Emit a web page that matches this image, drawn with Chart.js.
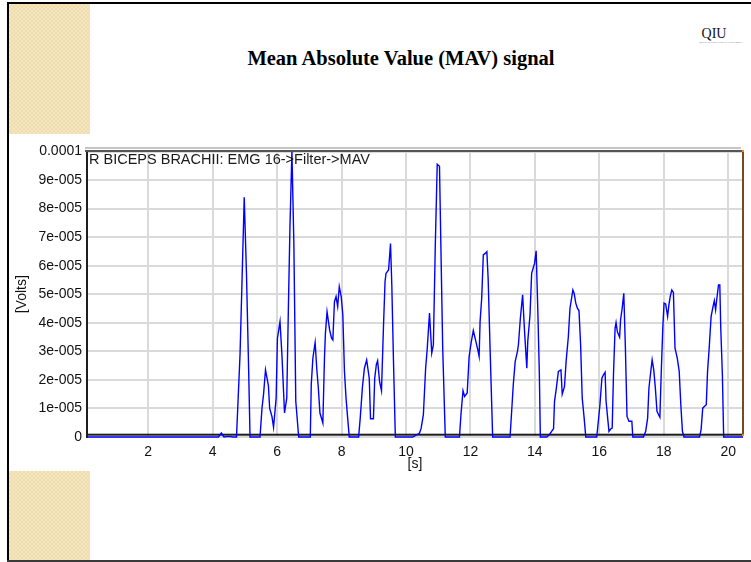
<!DOCTYPE html>
<html>
<head>
<meta charset="utf-8">
<title>Mean Absolute Value (MAV) signal</title>
<script src="https://cdn.jsdelivr.net/npm/chart.js@4/dist/chart.umd.min.js"></script>
<style>
  html, body { margin: 0; padding: 0; background: #ffffff; }
  body { width: 751px; height: 562px; position: relative; overflow: hidden; }
  .rule { position: absolute; background: #000; }
  .beige {
    position: absolute;
    background: repeating-conic-gradient(#f0ddae 0 25%, #f5e6c2 0 50%) 0 0 / 4px 4px;
  }
  #slideTitle {
    position: absolute; left: 151px; top: 47px; width: 500px; height: 24px;
    line-height: 24px; text-align: center;
    font: bold 20.5px "Liberation Serif", "Times New Roman", serif; color: #000;
  }
  #logo {
    position: absolute; left: 699px; top: 27px; width: 30px; text-align: center;
    font: 14px "Liberation Serif", "Times New Roman", serif; color: #111; line-height: 14px;
  }
  #logo .sub { display: block; font-size: 2.5px; line-height: 4px; letter-spacing: 0; color: #555; white-space: nowrap; }
  #chart { position: absolute; left: 0; top: 0; }
</style>
</head>
<body>
<div class="rule" style="left:7px; top:2px; width:2px; height:560px;"></div>
<div class="rule" style="left:7px; top:2px; width:744px; height:2px;"></div>
<div class="rule" style="left:7px; top:560px; width:744px; height:2px; background:#3a3a3a;"></div>
<div class="beige" style="left:9px; top:4px; width:81px; height:130px;"></div>
<div class="beige" style="left:9px; top:471px; width:81px; height:89px;"></div>
<div id="slideTitle">Mean Absolute Value (MAV) signal</div>
<div id="logo">QIU<span class="sub">QUEST INTERNATIONAL UNIVERSITY</span></div>
<canvas id="chart" width="751" height="562"></canvas>
<script>
// Time stamps of the MAV trace, seconds
const timeSec = [
  0.10, 1.00, 2.00, 3.00, 4.00, 4.18, 4.27, 4.35, 4.50, 4.62, 4.74,
  4.85, 4.91, 4.98, 5.05, 5.12, 5.16, 5.29, 5.40, 5.47,
  5.53, 5.58, 5.64, 5.73, 5.77, 5.84, 5.89, 5.97, 6.01, 6.09, 6.15, 6.23, 6.30, 6.35, 6.40, 6.46, 6.52, 6.58, 6.67, 6.80, 6.90, 7.03,
  7.06, 7.11, 7.18, 7.23, 7.28, 7.33, 7.42, 7.47, 7.50, 7.55, 7.63, 7.69, 7.73, 7.78, 7.83, 7.88, 7.93, 7.99, 8.04, 8.09, 8.14, 8.19, 8.24, 8.40, 8.53,
  8.58, 8.65, 8.71, 8.78, 8.86, 8.90, 8.99, 9.03, 9.08, 9.12, 9.18, 9.24, 9.30, 9.35, 9.38, 9.46, 9.52, 9.56, 9.61, 9.67, 9.80, 9.90,
  10.21, 10.34, 10.42, 10.47, 10.54, 10.61, 10.66, 10.73, 10.80, 10.85, 10.91, 10.97, 11.04, 11.09, 11.14, 11.22, 11.35, 11.50, 11.66,
  11.71, 11.77, 11.82, 11.90, 11.96, 12.02, 12.09, 12.17, 12.23, 12.27, 12.30, 12.35, 12.40, 12.46, 12.51, 12.55, 12.61, 12.69, 12.82, 12.92, 13.23,
  13.28, 13.33, 13.39, 13.46, 13.49, 13.55, 13.62, 13.68, 13.75, 13.78, 13.85, 13.90, 13.99, 14.04, 14.09, 14.14, 14.17, 14.27, 14.37,
  14.45, 14.52, 14.58, 14.61, 14.66, 14.73, 14.81, 14.85, 14.92, 14.97, 15.04, 15.09, 15.18, 15.22, 15.27, 15.32, 15.37, 15.42, 15.47, 15.53, 15.58, 15.71, 15.82, 15.92,
  15.97, 16.02, 16.08, 16.13, 16.18, 16.21, 16.26, 16.30, 16.36, 16.40, 16.44, 16.49, 16.52, 16.56, 16.63, 16.66, 16.71, 16.76, 16.81, 16.86, 16.92, 17.01, 17.04, 17.16, 17.27, 17.37,
  17.44, 17.50, 17.54, 17.58, 17.64, 17.69, 17.74, 17.79, 17.84, 17.88, 17.92, 17.97, 18.01, 18.06, 18.12, 18.16, 18.20, 18.25, 18.30, 18.35, 18.42, 18.48, 18.53, 18.58, 18.63, 18.77, 18.92, 19.11,
  19.16, 19.21, 19.26, 19.32, 19.36, 19.41, 19.47, 19.52, 19.57, 19.61, 19.65, 19.70, 19.74, 19.77, 19.82, 19.86, 19.96, 20.07, 20.17, 20.46
];

// MAV amplitude at each time stamp, in units of 1e-5 V
const mavE5 = [
  0, 0, 0, 0, 0, 0, 0.14, 0, 0.02, 0, 0,
  2.9, 5.4, 8.4, 5.7, 2.2, 0, 0, 0, 0,
  1.0, 1.5, 2.35, 1.8, 1.0, 0.72, 0.34, 1.36, 3.46, 4.04, 2.88, 0.84, 1.36, 4.5, 7.4, 10.0, 6.8, 1.25, 0, 0, 0, 0,
  1.83, 2.76, 3.31, 2.41, 1.71, 0.84, 0.49, 2.76, 3.64, 4.39, 3.75, 3.46, 3.4, 4.74, 4.92, 4.57, 5.27, 4.92, 4.28, 2.3, 1.36, 0.66, 0, 0, 0,
  0.66, 1.77, 2.41, 2.7, 2.06, 0.64, 0.64, 2.06, 2.53, 2.67, 1.95, 1.62, 3.81, 5.44, 5.73, 5.85, 6.78, 5.33, 2.76, 0, 0, 0,
  0, 0.08, 0.14, 0.3, 0.78, 2.41, 3.1, 4.34, 2.94, 3.23, 6.72, 9.55, 9.48, 6.26, 3.1, 0, 0, 0, 0,
  0.84, 1.62, 1.42, 1.54, 2.82, 3.29, 3.73, 3.34, 3.05, 2.82, 4.04, 4.86, 6.38, 6.43, 6.49, 5.56, 3.11, 0, 0, 0, 0,
  0.9, 1.83, 2.65, 3.0, 3.23, 4.16, 4.98, 3.7, 2.41, 3.35, 4.28, 5.73, 6.08, 6.52, 4.51, 2.18, 0, 0, 0,
  0.08, 0.2, 0.29, 1.25, 1.65, 2.3, 2.35, 1.5, 1.77, 2.65, 3.52, 4.51, 5.15, 5.03, 4.69, 4.51, 4.42, 3.23, 1.36, 0.66, 0, 0, 0, 0,
  0.55, 1.13, 2.06, 2.18, 2.27, 1.25, 0.66, 0.2, 0.29, 0.31, 2.18, 3.81, 4.01, 3.69, 3.5, 4.1, 4.51, 5.03, 3.11, 0.72, 0.55, 0.55, 0, 0, 0, 0,
  0.2, 0.66, 1.71, 2.12, 2.7, 2.35, 1.71, 0.9, 0.78, 0.69, 2.18, 3.81, 4.69, 4.66, 4.22, 4.63, 4.92, 5.15, 5.06, 3.11, 2.76, 2.3, 1.13, 0.2, 0, 0, 0, 0,
  0.26, 1.01, 1.07, 1.13, 2.3, 3.11, 4.22, 4.51, 4.77, 4.45, 4.86, 5.33, 5.33, 3.81, 2.18, 0, 0, 0, 0, 0
];

// Axis ticks and their printed labels
const xTickValues = [2, 4, 6, 8, 10, 12, 14, 16, 18, 20];
const yTickValues = [0, 1e-5, 2e-5, 3e-5, 4e-5, 5e-5, 6e-5, 7e-5, 8e-5, 9e-5, 1e-4];
const yTickLabels = ['0', '1e-005', '2e-005', '3e-005', '4e-005', '5e-005', '6e-005', '7e-005', '8e-005', '9e-005', '0.0001'];

const seriesLabel = 'R BICEPS BRACHII: EMG 16->Filter->MAV';
const points = timeSec.map((t, i) => ({ x: t, y: mavE5[i] * 1e-5 }));

const tickFont = { family: 'Arial, "Liberation Sans", sans-serif', size: 14 };

// Plot frame: double top rule, brown right edge, black base line, trace caption
const framePlugin = {
  id: 'frame',
  beforeDatasetsDraw(chart) {
    const { ctx, chartArea: a } = chart;
    ctx.save();
    ctx.fillStyle = '#1e1e1e';
    ctx.fillRect(a.left, a.bottom - 3.3, a.right - a.left, 2);
    ctx.restore();
  },
  afterDraw(chart) {
    const { ctx, chartArea: a } = chart;
    ctx.save();
    ctx.fillStyle = '#8c8c8c';
    ctx.fillRect(a.left - 2, a.top - 4, a.right - a.left, 1);
    ctx.fillStyle = '#555555';
    ctx.fillRect(a.left - 2, a.top - 1.5, a.right - a.left + 2, 2);
    ctx.fillStyle = '#7a4a1c';
    ctx.fillRect(a.right - 1, a.top - 1.5, 2, a.bottom - a.top);
    ctx.fillStyle = '#f28a1a';
    ctx.fillRect(a.right - 1, a.top - 1.5, 2, 2);
    ctx.fillRect(a.right - 1, a.bottom - 3, 2, 2);
    ctx.fillStyle = '#1a1a1a';
    ctx.font = '14.5px Arial, "Liberation Sans", sans-serif';
    ctx.textBaseline = 'top';
    ctx.fillText(seriesLabel, a.left + 2, a.top + 1);
    ctx.restore();
  }
};

new Chart(document.getElementById('chart'), {
  type: 'line',
  data: {
    datasets: [{
      label: seriesLabel,
      data: points,
      borderColor: '#0000ff',
      borderWidth: 1.4,
      pointRadius: 0,
      tension: 0,
      fill: false,
      clip: 4
    }]
  },
  options: {
    responsive: false,
    animation: false,
    devicePixelRatio: 1,
    layout: { padding: { top: 151.5, left: 0, right: 8, bottom: 89 } },
    plugins: {
      legend: { display: false },
      tooltip: { enabled: false },
      title: { display: false }
    },
    scales: {
      x: {
        type: 'linear',
        min: 0.1,
        max: 20.46,
        afterBuildTicks: (s) => { s.ticks = xTickValues.map(v => ({ value: v })); },
        afterFit: (s) => { s.height = 36; },
        grid: { color: '#dadada', lineWidth: 2, drawTicks: false },
        border: { display: false },
        ticks: { color: '#111', font: tickFont, padding: 7, maxRotation: 0, autoSkip: false },
        title: { display: true, text: '[s]', color: '#111', font: tickFont, padding: { top: 0, bottom: 0 } }
      },
      y: {
        type: 'linear',
        min: 0,
        max: 1e-4,
        afterBuildTicks: (s) => { s.ticks = yTickValues.map(v => ({ value: v })); },
        afterFit: (s) => { s.width = 87; },
        grid: { color: '#dadada', lineWidth: 2, drawTicks: false },
        border: { display: true, color: '#1e1e1e', width: 2 },
        ticks: {
          color: '#111', font: tickFont, padding: 5, autoSkip: false,
          callback: (value, index) => yTickLabels[index]
        },
        title: { display: true, text: '[Volts]', color: '#111', font: tickFont, padding: { top: 13.6, bottom: 0 } }
      }
    }
  },
  plugins: [framePlugin]
});
</script>
</body>
</html>
